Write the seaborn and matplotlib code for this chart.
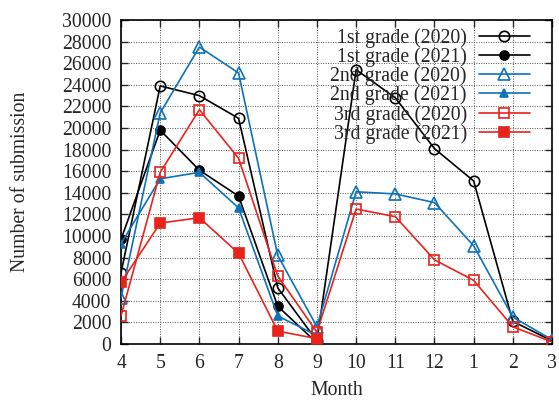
import matplotlib
matplotlib.use("Agg")
import matplotlib.pyplot as plt
import seaborn as sns
import pandas as pd
import numpy as np

months = ["4", "5", "6", "7", "8", "9", "10", "11", "12", "1", "2", "3"]
g1_2020 = [6600, 23900, 23000, 20900, 5200, 300, 25400, 22800, 18100, 15100, 2100, 300]
g1_2021 = [9700, 19800, 16100, 13700, 3500, 100]
g2_2020 = [4300, 21400, 27500, 25100, 8200, 1600, 14100, 13900, 13100, 9100, 2500, 400]
g2_2021 = [9300, 15300, 15900, 12600, 2600, 800]
g3_2020 = [2600, 15900, 21700, 17200, 6300, 1100, 12500, 11800, 7800, 5900, 1600, 200]
g3_2021 = [5700, 11200, 11700, 8400, 1200, 500]

labels = ["1st grade (2020)", "1st grade (2021)", "2nd grade (2020)",
          "2nd grade (2021)", "3rd grade (2020)", "3rd grade (2021)"]
series = [g1_2020, g1_2021, g2_2020, g2_2021, g3_2020, g3_2021]

BLACK = "#000000"
BLUE = "#0C72BA"
RED = "#E8231C"
styles = [
    dict(color=BLACK, marker="o", mfc="none", ms=7.5),
    dict(color=BLACK, marker="o", mfc=BLACK, ms=6.5),
    dict(color=BLUE, marker="^", mfc="none", ms=8),
    dict(color=BLUE, marker="^", mfc=BLUE, ms=5.5),
    dict(color=RED, marker="s", mfc="none", ms=6.5),
    dict(color=RED, marker="s", mfc=RED, ms=7),
]

sns.set_style("ticks")
plt.rcParams["font.family"] = ["Liberation Serif", "DejaVu Serif"]

fs = 14.2
fig = plt.figure(figsize=(5.59, 4.01), dpi=100)
ax = fig.add_axes([0.2165, 0.142, 0.771, 0.808])

for lab, vals, st in zip(labels, series, styles):
    df = pd.DataFrame({"x": np.arange(len(vals)), "y": vals})
    sns.lineplot(data=df, x="x", y="y", ax=ax, label=lab, color=st["color"],
                 marker=st["marker"], markersize=st["ms"],
                 markerfacecolor=st["mfc"], markeredgecolor=st["color"],
                 markeredgewidth=1.2, linewidth=1.2, zorder=3)

ax.set_xlim(0, 11)
ax.set_ylim(0, 30000)
ax.set_xticks(np.arange(12))
ax.set_xticklabels(months)
ax.set_yticks(np.arange(0, 30001, 2000))
ax.tick_params(direction="in", top=True, right=True, labelsize=fs, length=5,
               width=1, pad=7)
ax.grid(True, linestyle=(0, (1, 1.5)), color="#555555", linewidth=0.7)
for sp in ax.spines.values():
    sp.set_linewidth(1.2)
    sp.set_color("black")
ax.set_xlabel("Month", fontsize=fs, labelpad=6)
ax.set_ylabel("Number of submission", fontsize=fs, labelpad=23)

leg = ax.legend(loc="upper right", frameon=False, markerfirst=False,
                fontsize=fs, handlelength=2.6, labelspacing=-0.03,
                bbox_to_anchor=(0.958, 0.987), borderaxespad=0.0,
                handletextpad=0.6, borderpad=0.2)
for t in leg.get_texts():
    t.set_ha("right")
leg._legend_box.align = "right"
leg.set_zorder(5)

fig.savefig("out.png", dpi=100)
